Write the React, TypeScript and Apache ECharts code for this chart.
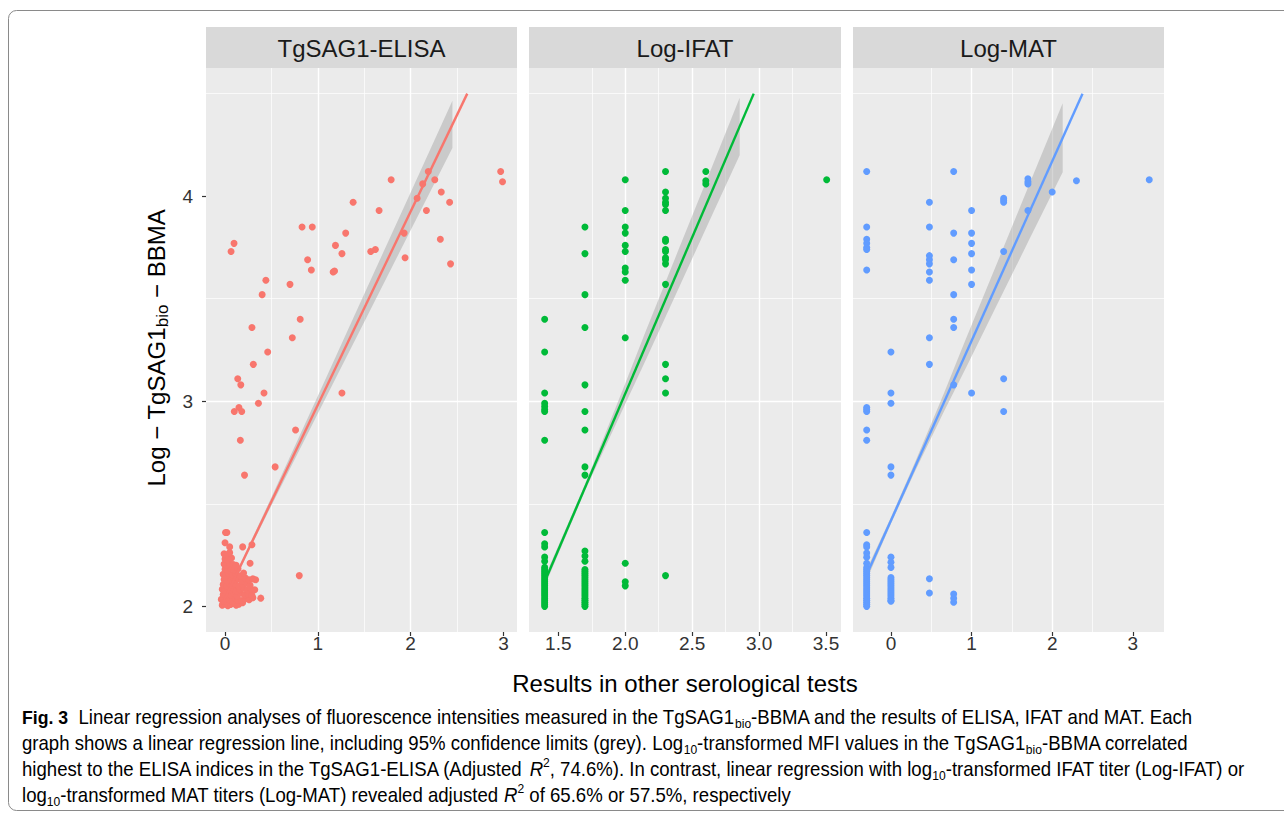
import React, { useEffect, useRef } from "react";
import * as echarts from "echarts";

// ---------- data ----------
const panelTitles = ["TgSAG1-ELISA", "Log-IFAT", "Log-MAT"];
const xMins = [-0.205, 1.281, -0.471];
const xMaxs = [3.146, 3.612, 3.387];
const xSteps = [1, 0.5, 1];
const xTickValues = [[0, 1, 2, 3], [1.5, 2.0, 2.5, 3.0, 3.5], [0, 1, 2, 3]];
const xTickDecimals = [0, 1, 0];
const yMin = 1.875;
const yMax = 4.625;
const yTickValues = [2, 3, 4];

const elisaPoints: number[][] = [
  [2.97, 4.12], [2.99, 4.07], [1.79, 4.08], [2.19, 4.12], [2.13, 4.06], [2.26, 4.08], [2.33, 4.02],
  [2.07, 3.99], [2.42, 3.97], [2.17, 3.93], [1.38, 3.97], [1.66, 3.93], [0.83, 3.85], [0.94, 3.85],
  [1.3, 3.82], [1.93, 3.82], [0.097, 3.77], [0.065, 3.73], [1.19, 3.76], [1.26, 3.72], [1.57, 3.73],
  [1.62, 3.74], [2.32, 3.79], [1.94, 3.7], [2.43, 3.67], [0.89, 3.69], [0.93, 3.64], [1.165, 3.63],
  [1.18, 3.635], [0.44, 3.59], [0.7, 3.57], [0.4, 3.52], [0.29, 3.36], [0.81, 3.4], [0.725, 3.31],
  [0.46, 3.24], [0.305, 3.18], [0.137, 3.11], [0.17, 3.08], [0.42, 3.04], [1.26, 3.04], [0.36, 2.99],
  [0.1, 2.95], [0.15, 2.97], [0.18, 2.95], [0.76, 2.86], [0.165, 2.81], [0.54, 2.68], [0.21, 2.64],
  [0.8, 2.15], [0.005, 2.36], [0.02, 2.36], [0.0, 2.31], [0.05, 2.29], [0.19, 2.29], [0.29, 2.3],
  [0.27, 2.21], [0.385, 2.04], [0.33, 2.13],
  [-0.03, 2.006], [0.0, 2.012], [0.03, 2.003], [0.06, 2.009], [0.09, 2.015], [0.12, 2.005], [0.15, 2.011], [0.19, 2.018],
  [-0.04, 2.034], [-0.01, 2.028], [0.02, 2.038], [0.05, 2.031], [0.08, 2.026], [0.11, 2.04], [0.14, 2.033], [0.18, 2.029],
  [0.22, 2.037], [0.26, 2.032], [0.3, 2.042],
  [-0.02, 2.058], [0.01, 2.051], [0.04, 2.062], [0.07, 2.055], [0.1, 2.06], [0.13, 2.052], [0.17, 2.064], [0.21, 2.057],
  [0.25, 2.061], [0.29, 2.054],
  [-0.03, 2.083], [0.0, 2.077], [0.03, 2.088], [0.06, 2.08], [0.09, 2.086], [0.12, 2.074], [0.16, 2.082], [0.2, 2.09],
  [0.24, 2.078], [0.28, 2.085], [0.32, 2.081],
  [-0.02, 2.106], [0.02, 2.101], [0.05, 2.112], [0.08, 2.104], [0.11, 2.109], [0.15, 2.099], [0.19, 2.107], [0.23, 2.113],
  [0.27, 2.103],
  [-0.01, 2.131], [0.02, 2.126], [0.06, 2.136], [0.1, 2.128], [0.14, 2.133], [0.18, 2.124], [0.22, 2.138], [0.26, 2.13],
  [0.3, 2.134],
  [-0.02, 2.156], [0.01, 2.151], [0.04, 2.161], [0.08, 2.154], [0.12, 2.158], [0.16, 2.149], [0.2, 2.163],
  [0.0, 2.181], [0.03, 2.176], [0.06, 2.186], [0.1, 2.179], [0.14, 2.183],
  [-0.01, 2.206], [0.02, 2.201], [0.05, 2.211], [0.09, 2.204], [0.12, 2.2],
  [0.0, 2.231], [0.03, 2.226], [0.07, 2.236],
  [-0.01, 2.256], [0.02, 2.251], [0.05, 2.262],
];

const ifatLevels = [1.398, 1.699, 2.0, 2.301, 2.602, 3.505];
const ifatValues: number[][] = [
  [3.4, 3.24, 3.04, 2.99, 2.975, 2.96, 2.95, 2.81, 2.36, 2.305, 2.29, 2.24, 2.22, 2.19, 2.18, 2.17, 2.16, 2.15,
    2.14, 2.13, 2.12, 2.11, 2.1, 2.09, 2.08, 2.07, 2.06, 2.05, 2.04, 2.03, 2.02, 2.01, 2.0],
  [3.85, 3.72, 3.52, 3.36, 3.08, 2.95, 2.86, 2.68, 2.64, 2.27, 2.245, 2.22, 2.18, 2.17, 2.16, 2.15, 2.14, 2.13,
    2.12, 2.11, 2.1, 2.09, 2.08, 2.07, 2.06, 2.05, 2.04, 2.03, 2.02, 2.01, 2.0],
  [4.08, 3.93, 3.85, 3.82, 3.76, 3.73, 3.65, 3.63, 3.59, 3.31, 2.21, 2.12, 2.1],
  [4.12, 4.02, 3.99, 3.97, 3.96, 3.93, 3.79, 3.78, 3.74, 3.73, 3.7, 3.69, 3.67, 3.57, 3.18, 3.11, 3.04, 2.15],
  [4.12, 4.075, 4.06],
  [4.08],
];

const matLevels = [-0.301, 0, 0.477, 0.778, 1.0, 1.398, 1.699, 2.0, 2.301, 3.204];
const matValues: number[][] = [
  [4.12, 3.85, 3.79, 3.77, 3.75, 3.74, 3.64, 2.97, 2.96, 2.95, 2.86, 2.81, 2.36, 2.3, 2.29, 2.26, 2.24, 2.21,
    2.19, 2.18, 2.17, 2.16, 2.15, 2.14, 2.13, 2.12, 2.11, 2.1, 2.09, 2.08, 2.07, 2.06, 2.05, 2.04, 2.03, 2.02, 2.01, 2.0],
  [3.24, 3.04, 2.99, 2.68, 2.64, 2.24, 2.215, 2.19, 2.14, 2.13, 2.12, 2.11, 2.1, 2.09, 2.08, 2.07, 2.06, 2.05,
    2.04, 2.03, 2.025],
  [3.97, 3.85, 3.71, 3.69, 3.67, 3.63, 3.59, 3.31, 3.18, 2.135, 2.065],
  [4.12, 3.82, 3.69, 3.52, 3.4, 3.36, 3.08, 2.06, 2.04, 2.02],
  [3.93, 3.82, 3.77, 3.72, 3.64, 3.57, 3.04],
  [3.99, 3.98, 3.97, 3.73, 3.11, 2.95],
  [4.085, 4.07, 4.06, 3.93],
  [4.02],
  [4.075],
  [4.08],
];

// regression lines (start, end) and 95% bands
const elisaFit = [[-0.03, 2.012], [2.61, 4.5]];
const ifatFit = [[1.398, 2.12], [2.96, 4.5]];
const matFit = [[-0.301, 2.155], [2.376, 4.5]];

const elisaBandX = [-0.01, 0.25, 0.5, 1.0, 1.5, 2.0, 2.45];
const elisaBandLow = [2.018, 2.264, 2.492, 2.94, 3.387, 3.834, 4.235];
const elisaBandHigh = [2.042, 2.288, 2.532, 3.026, 3.523, 4.018, 4.465];

const ifatBandX = [1.398, 1.7, 2.0, 2.15, 2.4, 2.65, 2.855];
const ifatBandLow = [2.098, 2.565, 2.987, 3.196, 3.552, 3.91, 4.2];
const ifatBandHigh = [2.142, 2.595, 3.087, 3.336, 3.742, 4.146, 4.48];

const matBandX = [-0.301, 0, 0.3, 0.66, 0.92, 1.3, 1.7, 2.13];
const matBandLow = [2.13, 2.404, 2.66, 2.952, 3.155, 3.458, 3.776, 4.117];
const matBandHigh = [2.18, 2.434, 2.704, 3.042, 3.295, 3.658, 4.042, 4.453];

const captionLines = [
  "{b|Fig. 3}{n|  Linear regression analyses of fluorescence intensities measured in the TgSAG1}{s|bio}{n|-BBMA and the results of ELISA, IFAT and MAT. Each}",
  "{n|graph shows a linear regression line, including 95% confidence limits (grey). Log}{s|10}{n|-transformed MFI values in the TgSAG1}{s|bio}{n|-BBMA correlated}",
  "{n|highest to the ELISA indices in the TgSAG1-ELISA (Adjusted }{i|R}{p|2}{n|, 74.6%). In contrast, linear regression with log}{s|10}{n|-transformed IFAT titer (Log-IFAT) or}",
  "{n|log}{s|10}{n|-transformed MAT titers (Log-MAT) revealed adjusted }{i|R}{p|2}{n| of 65.6% or 57.5%, respectively}",
];

// ---------- styling ----------
const COLORS = ["#F8766D", "#00BA38", "#619CFF"];
const FONT = "'Liberation Sans', Arial, Helvetica, sans-serif";
const GRIDS = [
  { left: 206, top: 68, width: 311, height: 564 },
  { left: 529, top: 68, width: 312, height: 564 },
  { left: 853, top: 68, width: 311, height: 564 },
];

function toPairs(levels: number[], values: number[][]) {
  const out: number[][] = [];
  levels.forEach((lv, i) => values[i].forEach((v) => out.push([lv, v])));
  return out;
}

function bandSeries(idx: number, bx: number[], lo: number[], hi: number[]) {
  return {
    type: "custom",
    xAxisIndex: idx,
    yAxisIndex: idx,
    silent: true,
    data: [[bx[0], lo[0]]],
    renderItem: (_p: any, api: any) => {
      const pts: number[][] = [];
      for (let k = 0; k < bx.length; k++) pts.push(api.coord([bx[k], hi[k]]));
      for (let k = bx.length - 1; k >= 0; k--) pts.push(api.coord([bx[k], lo[k]]));
      return {
        type: "polygon",
        shape: { points: pts },
        style: { fill: "rgba(153,153,153,0.4)", stroke: "none" },
      };
    },
  };
}

export default function App() {
  const ref = useRef<HTMLDivElement>(null);
  useEffect(() => {
    if (!ref.current) return;
    const chart = echarts.init(ref.current, null, { renderer: "svg" });

    const pointSets = [elisaPoints, toPairs(ifatLevels, ifatValues), toPairs(matLevels, matValues)];
    const fits = [elisaFit, ifatFit, matFit];
    const bands = [
      [elisaBandX, elisaBandLow, elisaBandHigh],
      [ifatBandX, ifatBandLow, ifatBandHigh],
      [matBandX, matBandLow, matBandHigh],
    ];

    const series: any[] = [];
    [0, 1, 2].forEach((i) => {
      series.push({
        type: "scatter",
        xAxisIndex: i,
        yAxisIndex: i,
        data: pointSets[i],
        symbolSize: 7,
        itemStyle: { color: COLORS[i], opacity: 1 },
        silent: true,
      });
      series.push(bandSeries(i, bands[i][0], bands[i][1], bands[i][2]));
      series.push({
        type: "line",
        xAxisIndex: i,
        yAxisIndex: i,
        data: fits[i],
        showSymbol: false,
        symbol: "none",
        lineStyle: { color: COLORS[i], width: 2.4 },
        silent: true,
      });
    });

    const graphic: any[] = [
      {
        type: "rect",
        shape: { x: 8.5, y: 10.5, width: 1310, height: 800, r: 8 },
        style: { fill: "none", stroke: "#8a8a8a", lineWidth: 1 },
        silent: true,
      },
    ];
    GRIDS.forEach((g, i) => {
      graphic.push({
        type: "rect",
        shape: { x: g.left, y: 27, width: g.width, height: 41 },
        style: { fill: "#d9d9d9" },
        silent: true,
      });
      graphic.push({
        type: "text",
        x: g.left + g.width / 2,
        y: 48,
        style: {
          text: panelTitles[i],
          font: `24px ${FONT}`,
          fill: "#1a1a1a",
          align: "center",
          verticalAlign: "middle",
        },
        silent: true,
      });
    });
    graphic.push({
      type: "text",
      x: 685,
      y: 683,
      style: {
        text: "Results in other serological tests",
        font: `24px ${FONT}`,
        fill: "#000",
        align: "center",
        verticalAlign: "middle",
      },
      silent: true,
    });
    graphic.push({
      type: "text",
      x: 156,
      y: 348,
      rotation: Math.PI / 2,
      style: {
        text: "{a|Log − TgSAG1}{s|bio}{a| − BBMA}",
        align: "center",
        verticalAlign: "middle",
        rich: {
          a: { fontSize: 24, fontFamily: FONT, color: "#000", lineHeight: 30 },
          s: { fontSize: 17, fontFamily: FONT, color: "#000", lineHeight: 17, verticalAlign: "bottom" },
        },
      },
      silent: true,
    });
    const capY = [717, 743, 769, 795];
    const capFont = "'Liberation Sans', Arial, sans-serif";
    captionLines.forEach((t, k) => {
      graphic.push({
        type: "text",
        x: 22,
        y: capY[k],
        scaleX: 0.93,
        style: {
          text: t,
          align: "left",
          verticalAlign: "middle",
          rich: {
            n: { fontSize: 20, fontFamily: capFont, color: "#231f20", lineHeight: 26 },
            b: { fontSize: 19, fontFamily: capFont, fontWeight: "bold", color: "#231f20", lineHeight: 26 },
            i: { fontSize: 20, fontFamily: capFont, fontStyle: "italic", color: "#231f20", lineHeight: 26 },
            s: { fontSize: 13, fontFamily: capFont, color: "#231f20", lineHeight: 14, verticalAlign: "bottom" },
            p: { fontSize: 13, fontFamily: capFont, color: "#231f20", lineHeight: 18, verticalAlign: "top" },
          },
        },
        silent: true,
      });
    });

    const option: any = {
      animation: false,
      grid: GRIDS.map((g) => ({
        ...g,
        show: true,
        backgroundColor: "#ebebeb",
        borderWidth: 0,
        containLabel: false,
      })),
      xAxis: [0, 1, 2].map((i) => ({
        type: "value",
        gridIndex: i,
        min: xMins[i],
        max: xMaxs[i],
        splitNumber: i === 1 ? 5 : 3,
        minInterval: xSteps[i],
        maxInterval: xSteps[i],
        axisLine: { show: false, onZero: false },
        axisTick: {
          show: true,
          length: 4,
          customValues: xTickValues[i],
          lineStyle: { color: "#333", width: 1.2 },
        },
        axisLabel: {
          customValues: xTickValues[i],
          formatter: (v: number) => v.toFixed(xTickDecimals[i]),
          fontSize: 19,
          fontFamily: FONT,
          color: "#333",
          margin: 2,
        },
        splitLine: {
          show: true,
          showMinLine: false,
          showMaxLine: false,
          lineStyle: { color: "#ffffff", width: 1.4 },
        },
        minorTick: { show: false, splitNumber: 2 },
        minorSplitLine: { show: true, lineStyle: { color: "#ffffff", width: 0.7 } },
      })),
      yAxis: [0, 1, 2].map((i) => ({
        type: "value",
        gridIndex: i,
        min: yMin,
        max: yMax,
        splitNumber: 3,
        minInterval: 1,
        maxInterval: 1,
        axisLine: { show: false, onZero: false },
        axisTick: {
          show: i === 0,
          length: 4,
          customValues: yTickValues,
          lineStyle: { color: "#333", width: 1.2 },
        },
        axisLabel: {
          show: i === 0,
          customValues: yTickValues,
          fontSize: 19,
          fontFamily: FONT,
          color: "#333",
          margin: 13,
        },
        splitLine: {
          show: true,
          showMinLine: false,
          showMaxLine: false,
          lineStyle: { color: "#ffffff", width: 1.4 },
        },
        minorTick: { show: false, splitNumber: 2 },
        minorSplitLine: { show: true, lineStyle: { color: "#ffffff", width: 0.7 } },
      })),
      series,
      graphic,
    };
    chart.setOption(option);
    return () => chart.dispose();
  }, []);

  return (
    <div
      ref={ref}
      style={{ position: "absolute", left: 0, top: 0, width: 1284, height: 816, background: "#fff" }}
    />
  );
}
